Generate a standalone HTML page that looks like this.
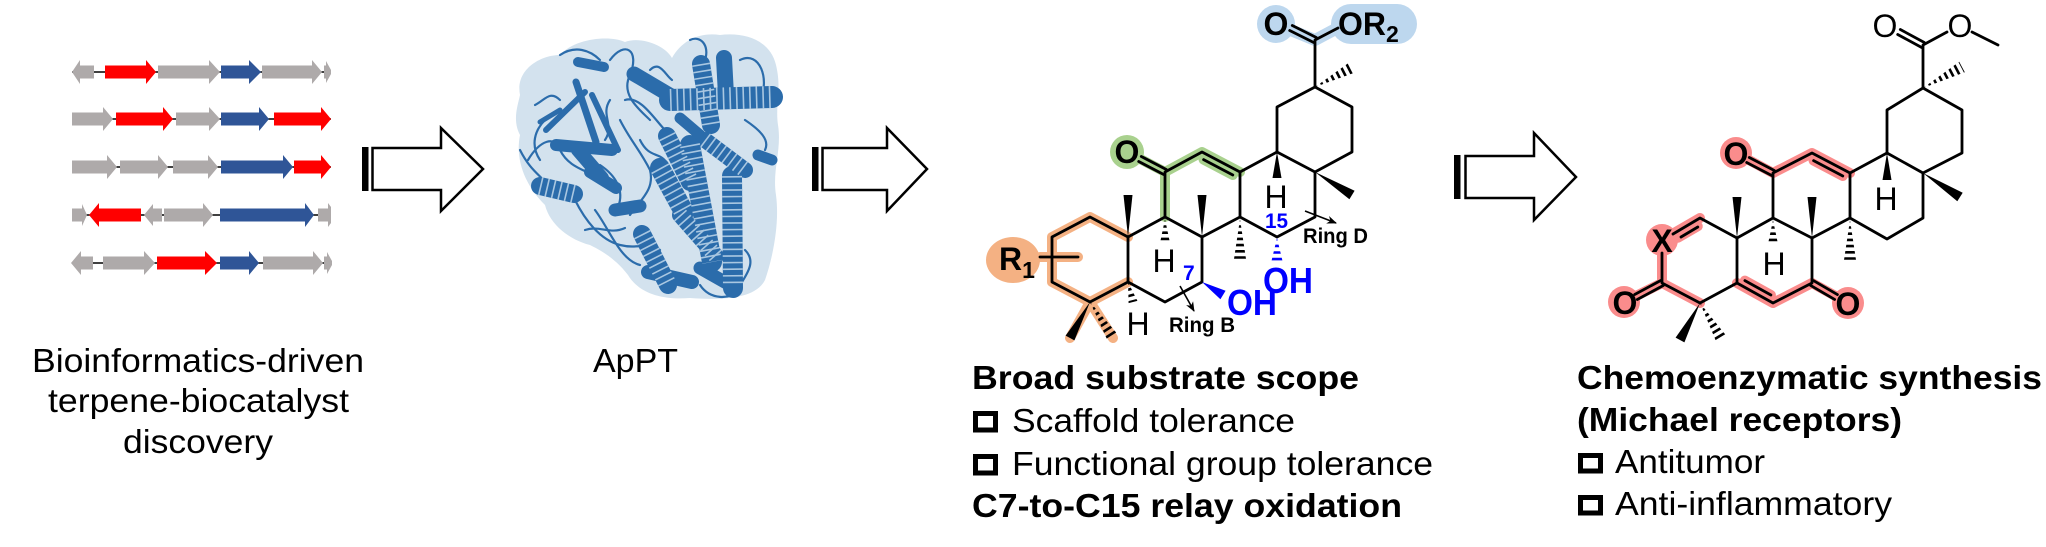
<!DOCTYPE html>
<html><head><meta charset="utf-8"><style>
html,body{margin:0;padding:0;background:#fff;overflow:hidden}
svg{display:block}
</style></head><body>
<svg width="2046" height="547" viewBox="0 0 2046 547" xmlns="http://www.w3.org/2000/svg" font-family="'Liberation Sans', Arial, sans-serif">
<defs>
<marker id="ah" markerWidth="10" markerHeight="8" refX="9" refY="4" orient="auto" markerUnits="userSpaceOnUse"><path d="M0,0 L10,4 L0,8 L3,4 Z" fill="#000"/></marker>
<clipPath id="h1"><polygon points="1315,87 1355.8,72.3 1350.2,61.7"/></clipPath>
<clipPath id="h2"><polygon points="1240,219 1234,259 1246,259"/></clipPath>
<clipPath id="h3"><polygon points="1165,219 1160,243 1170,243"/></clipPath>
<clipPath id="h4"><polygon points="1128,282 1137.4,300.9 1128.6,303.1"/></clipPath>
<clipPath id="h5"><polygon points="1090,302 1118.1,334.8 1107.9,341.2"/></clipPath>
<clipPath id="h6"><polygon points="1277,238 1271,263 1283,263"/></clipPath>
<clipPath id="r1"><polygon points="1923,88 1964.8,72.3 1959.2,61.7"/></clipPath>
<clipPath id="r2"><polygon points="1850,220 1844,260 1856,260"/></clipPath>
<clipPath id="r3"><polygon points="1773,220 1768,244 1778,244"/></clipPath>
<clipPath id="r4"><polygon points="1700,303 1727.2,336.9 1716.8,343.1"/></clipPath>
</defs>
<rect width="2046" height="547" fill="#fff"/>

<!-- ===== Gene clusters ===== -->
<g stroke="#000" stroke-width="1.5">
<line x1="72" y1="72" x2="331" y2="72"/>
<line x1="72" y1="119" x2="331" y2="119"/>
<line x1="72" y1="167" x2="331" y2="167"/>
<line x1="72" y1="215" x2="331" y2="215"/>
<line x1="72" y1="263" x2="331" y2="263"/>
</g>
<g>
<polygon fill="#aeaaaa" points="72,72 80,60 80,65.5 94,65.5 94,78.5 80,78.5 80,84"/>
<polygon fill="#ff0000" points="105,65.5 146,65.5 146,60 156,72 146,84 146,78.5 105,78.5"/>
<polygon fill="#aeaaaa" points="158,65.5 209,65.5 209,60 220,72 209,84 209,78.5 158,78.5"/>
<polygon fill="#2f5597" points="221,65.5 249,65.5 249,60 261,72 249,84 249,78.5 221,78.5"/>
<polygon fill="#aeaaaa" points="262,65.5 312,65.5 312,60 322,72 312,84 312,78.5 262,78.5"/>
<polygon fill="#aeaaaa" points="324,65.5 326,65.5 326,61 331,70 331,74 326,83 326,78.5 324,78.5"/>
<polygon fill="#aeaaaa" points="72,112.5 103,112.5 103,107 113,119 103,131 103,125.5 72,125.5"/>
<polygon fill="#ff0000" points="116,112.5 163,112.5 163,107 173,119 163,131 163,125.5 116,125.5"/>
<polygon fill="#aeaaaa" points="176,112.5 209,112.5 209,107 220,119 209,131 209,125.5 176,125.5"/>
<polygon fill="#2f5597" points="221,112.5 259,112.5 259,107 269,119 259,131 259,125.5 221,125.5"/>
<polygon fill="#ff0000" points="274,112.5 321,112.5 321,107 331,119 321,131 321,125.5 274,125.5"/>
<polygon fill="#aeaaaa" points="72,160.5 107,160.5 107,155 117,167 107,179 107,173.5 72,173.5"/>
<polygon fill="#aeaaaa" points="120,160.5 158,160.5 158,155 168,167 158,179 158,173.5 120,173.5"/>
<polygon fill="#aeaaaa" points="173,160.5 208,160.5 208,155 218,167 208,179 208,173.5 173,173.5"/>
<polygon fill="#2f5597" points="221,160.5 283,160.5 283,155 293,167 283,179 283,173.5 221,173.5"/>
<polygon fill="#ff0000" points="294,160.5 321,160.5 321,155 331,167 321,179 321,173.5 294,173.5"/>
<polygon fill="#aeaaaa" points="72,208.5 82,208.5 82,204 87,215 82,226 82,221.5 72,221.5"/>
<polygon fill="#ff0000" points="89,215 99,203 99,208.5 141,208.5 141,221.5 99,221.5 99,227"/>
<polygon fill="#aeaaaa" points="144,215 153,204 153,208.5 162,208.5 162,221.5 153,221.5 153,226"/>
<polygon fill="#aeaaaa" points="164,208.5 203,208.5 203,203 213,215 203,227 203,221.5 164,221.5"/>
<polygon fill="#2f5597" points="220,208.5 305,208.5 305,203 314,215 305,227 305,221.5 220,221.5"/>
<polygon fill="#aeaaaa" points="318,208.5 328,208.5 328,203 331,207 331,223 328,227 328,221.5 318,221.5"/>
<polygon fill="#aeaaaa" points="71,263 81,251 81,256.5 93,256.5 93,269.5 81,269.5 81,275"/>
<polygon fill="#aeaaaa" points="103,256.5 144,256.5 144,251 155,263 144,275 144,269.5 103,269.5"/>
<polygon fill="#ff0000" points="157,256.5 205,256.5 205,251 217,263 205,275 205,269.5 157,269.5"/>
<polygon fill="#2f5597" points="220,256.5 249,256.5 249,251 259,263 249,275 249,269.5 220,269.5"/>
<polygon fill="#aeaaaa" points="263,256.5 313,256.5 313,251 323,263 313,275 313,269.5 263,269.5"/>
<polygon fill="#aeaaaa" points="324,256.5 327,256.5 327,252 332,261 332,265 327,274 327,269.5 324,269.5"/>
</g>

<g font-size="33" fill="#000" text-anchor="start">
<text x="32" y="372" textLength="332" lengthAdjust="spacingAndGlyphs">Bioinformatics-driven</text>
<text x="48" y="412" textLength="301" lengthAdjust="spacingAndGlyphs">terpene-biocatalyst</text>
<text x="123" y="453" textLength="150" lengthAdjust="spacingAndGlyphs">discovery</text>
<text x="593" y="372" textLength="85" lengthAdjust="spacingAndGlyphs">ApPT</text>
</g>

<!-- ===== Block arrows ===== -->
<g stroke="#000" stroke-width="2.5" fill="#fff" stroke-linejoin="miter">
<rect x="362" y="147" width="6.5" height="44" fill="#000" stroke="none"/>
<polygon points="372.5,148 441,148 441,128 483,169 441,211 441,190 372.5,190"/>
<rect x="812" y="147" width="6.5" height="44" fill="#000" stroke="none"/>
<polygon points="822.5,148 887,148 887,128 927,169 887,211 887,190 822.5,190"/>
<rect x="1454" y="155" width="6.5" height="44" fill="#000" stroke="none"/>
<polygon points="1465.5,156 1534,156 1534,133 1576,177 1534,220 1534,198 1465.5,198"/>
</g>

<!-- ===== Protein ===== -->
<path fill="#d3e2ee" d="M520,95 C515,70 540,55 560,55 C575,38 610,35 625,42 C640,36 665,45 672,58 C682,40 700,32 720,35 C745,32 770,40 776,65 C782,90 775,105 778,125 C782,150 772,170 776,195 C780,225 772,260 765,280 C755,300 720,300 690,298 C665,300 640,295 628,275 C615,258 600,250 590,245 C570,240 550,225 545,205 C525,185 515,160 520,135 C512,120 518,105 520,95 Z"/>
<g fill="none" stroke="#2b6cab" stroke-linecap="round" stroke-linejoin="round">
<g stroke-width="2.2">
<path d="M560,55 C575,45 590,50 600,60"/>
<path d="M610,60 C625,40 640,50 630,75 C620,95 640,110 650,120"/>
<path d="M520,150 C530,170 540,175 548,185"/>
<path d="M528,160 C540,140 555,135 560,150 C570,170 590,170 600,180"/>
<path d="M575,200 C585,220 600,240 620,245 C640,250 650,240 660,250"/>
<path d="M595,210 C610,230 620,260 640,265"/>
<path d="M620,120 C630,140 640,150 650,170 C655,190 640,200 630,215"/>
<path d="M625,100 C640,95 655,120 665,130"/>
<path d="M600,165 C615,175 625,190 618,207"/>
<path d="M740,60 C760,50 770,80 760,100"/>
<path d="M745,120 C760,130 770,140 765,150"/>
<path d="M700,285 C710,300 730,300 740,290"/>
<path d="M690,40 C700,35 710,45 705,60"/>
<path d="M740,285 C750,270 755,260 745,250"/>
<path d="M560,100 C550,90 545,100 535,105"/>
<path d="M585,230 C600,225 610,235 625,228"/>
<path d="M640,140 C650,160 660,150 668,165"/>
<path d="M545,120 C535,130 530,145 540,160"/>
<path d="M610,100 C600,115 615,125 605,140"/>
<path d="M650,70 C660,60 665,75 672,80"/>
</g>
<g id="hel">
<path stroke-width="20" d="M732,176 L733,288"/>
<path stroke-width="22" d="M670,100 L772,97"/>
<path stroke-width="18" d="M701,64 L711,125"/>
<path stroke-width="16" d="M724,58 L726,95"/>
<path stroke-width="15" d="M634,74 L678,100"/>
<path stroke-width="18" d="M667,136 L690,182"/>
<path stroke-width="20" d="M660,168 L684,212"/>
<path stroke-width="20" d="M690,145 L712,262"/>
<path stroke-width="18" d="M642,234 L668,285"/>
<path stroke-width="14" d="M648,272 L692,282"/>
<path stroke-width="16" d="M705,140 L745,170"/>
<path stroke-width="16" d="M680,215 L716,256"/>
<path stroke-width="18" d="M540,186 L574,194"/>
<path stroke-width="13" d="M615,210 L640,206"/>
<path stroke-width="10" d="M578,62 L604,67"/>
<path stroke-width="12" d="M556,145 L612,150"/>
<path stroke-width="14" d="M578,150 L602,178"/>
<path stroke-width="12" d="M590,172 L616,188"/>
<path stroke-width="11" d="M758,155 L772,160"/>
<path stroke-width="13" d="M700,268 L730,285"/>
<path stroke-width="11" d="M680,118 L700,135"/>
</g>
<path stroke-width="6" d="M546,130 L585,92"/>
<path stroke-width="7" d="M576,82 L596,142"/>
<path stroke-width="6" d="M592,95 L618,150"/>
<path stroke-width="5" d="M540,122 L560,110"/>
</g>
<g fill="none" stroke="#a9c7e1" stroke-dasharray="1.6 5" stroke-linecap="butt">
<path stroke-width="20" d="M732,176 L733,288"/>
<path stroke-width="22" d="M670,100 L772,97"/>
<path stroke-width="18" d="M701,64 L711,125"/>
<path stroke-width="18" d="M667,136 L690,182"/>
<path stroke-width="20" d="M660,168 L684,212"/>
<path stroke-width="20" d="M690,145 L712,262"/>
<path stroke-width="18" d="M642,234 L668,285"/>
<path stroke-width="16" d="M705,140 L745,170"/>
<path stroke-width="16" d="M680,215 L716,256"/>
<path stroke-width="18" d="M540,186 L574,194"/>
</g>

<!-- ===== Middle structure: highlights ===== -->
<g fill="none" stroke-linecap="round" stroke-linejoin="round" stroke-width="10">
<path stroke="#f4b183" d="M1128,237 L1090,217 L1052,237 L1052,282 L1090,302 L1128,282 M1090,302 L1070,338 M1090,302 L1113,338 M1040,257 L1078,257"/>
<path stroke="#a9d18e" d="M1165,217 L1165,172 L1202,152 L1240,172 M1165,172 L1127,152 M1203.6,159.6 L1232.8,175"/>
<path stroke="#bdd7ee" stroke-width="12" d="M1276,24 L1315,40 L1345,24"/>
</g>
<ellipse cx="1013" cy="260" rx="27" ry="23" fill="#f4b183"/>
<circle cx="1127" cy="152" r="17" fill="#a9d18e"/>
<circle cx="1276" cy="24" r="19" fill="#bdd7ee"/>
<rect x="1331" y="4" width="86" height="40" rx="20" fill="#bdd7ee"/>

<g fill="none" stroke="#000" stroke-width="2.8" stroke-linejoin="round" stroke-linecap="round">
<path d="M1052,237 L1090,217 L1128,237 L1128,282 L1090,302 L1052,282 Z"/>
<path d="M1128,237 L1165,217 L1202,237 L1202,282 L1165,302 L1128,282"/>
<path d="M1165,217 L1165,172 L1202,152 L1240,172 L1240,217 L1202,237"/>
<path d="M1240,172 L1277,152 L1315,172 L1315,217 L1277,237 L1240,217"/>
<path d="M1277,152 L1277,107 L1315,87 L1352,107 L1352,152 L1315,172"/>
<path d="M1315,87 L1315,40 L1338,28"/>
<path d="M1316.3,37.5 L1292.3,25.5 M1313.7,42.5 L1289.7,30.5"/>
<path d="M1166.3,169.5 L1141.3,156.5 M1163.7,174.5 L1138.7,161.5"/>
<path d="M1203.6,159.6 L1232.8,175"/>
<path d="M1040,257 L1078,257"/>
</g>
<g fill="#000">
<polygon points="1128,237 1123.5,195 1132.5,195"/>
<polygon points="1202,237 1197.5,195 1206.5,195"/>
<polygon points="1277,152 1272.5,178 1281.5,178"/>
<polygon points="1315,172 1349.4,199.2 1354.6,190.8"/>
<polygon points="1090,302 1074.4,340.4 1065.6,335.6"/>
</g>
<g stroke="#000" stroke-width="14" stroke-dasharray="2.6 3.6">
<line x1="1315" y1="87" x2="1356" y2="66" clip-path="url(#h1)"/>
<line x1="1240" y1="219" x2="1240" y2="260" clip-path="url(#h2)"/>
<line x1="1165" y1="219" x2="1165" y2="244" clip-path="url(#h3)"/>
<line x1="1128" y1="282" x2="1134" y2="304" clip-path="url(#h4)"/>
<line x1="1090" y1="302" x2="1115" y2="341" clip-path="url(#h5)"/>
</g>
<line x1="1277" y1="238" x2="1277" y2="264" stroke="#0000ff" stroke-width="14" stroke-dasharray="2.6 4" clip-path="url(#h6)"/>
<polygon points="1202,282 1220.4,299.3 1225.6,290.7" fill="#0000ff"/>

<g font-weight="bold" font-size="32" fill="#000">
<text x="1276" y="35" text-anchor="middle">O</text>
<text x="1338" y="35">OR<tspan font-size="23" dy="7">2</tspan></text>
<text x="1127" y="163" text-anchor="middle">O</text>
<text x="999" y="270">R<tspan font-size="23" dy="8">1</tspan></text>
</g>
<g font-size="32" fill="#000" text-anchor="middle">
<text x="1164" y="272">H</text>
<text x="1138" y="335">H</text>
<text x="1276" y="208">H</text>
</g>
<g font-weight="bold" fill="#0000ff">
<text x="1227" y="315" font-size="36" textLength="50" lengthAdjust="spacingAndGlyphs">OH</text>
<text x="1263" y="293" font-size="36" textLength="50" lengthAdjust="spacingAndGlyphs">OH</text>
<text x="1183" y="280" font-size="21">7</text>
<text x="1265" y="228" font-size="21" textLength="23" lengthAdjust="spacingAndGlyphs">15</text>
</g>
<g font-weight="bold" font-size="21" fill="#000">
<text x="1169" y="332" textLength="66" lengthAdjust="spacingAndGlyphs">Ring B</text>
<text x="1303" y="243" textLength="65" lengthAdjust="spacingAndGlyphs">Ring D</text>
</g>
<g stroke="#000" stroke-width="1.6" fill="none">
<line x1="1180" y1="286" x2="1194" y2="311" marker-end="url(#ah)"/>
<line x1="1305" y1="211" x2="1336" y2="223" marker-end="url(#ah)"/>
</g>

<g fill="#000">
<text x="972" y="389" font-size="33" font-weight="bold" textLength="387" lengthAdjust="spacingAndGlyphs">Broad substrate scope</text>
<rect x="975.5" y="413.5" width="20" height="16.5" fill="none" stroke="#000" stroke-width="5"/>
<text x="1012" y="432" font-size="33" textLength="283" lengthAdjust="spacingAndGlyphs">Scaffold tolerance</text>
<rect x="975.5" y="456.5" width="20" height="16.5" fill="none" stroke="#000" stroke-width="5"/>
<text x="1012" y="475" font-size="33" textLength="421" lengthAdjust="spacingAndGlyphs">Functional group tolerance</text>
<text x="972" y="517" font-size="33" font-weight="bold" textLength="430" lengthAdjust="spacingAndGlyphs">C7-to-C15 relay oxidation</text>
</g>

<!-- ===== Right structure ===== -->
<g fill="none" stroke="#fa8c8c" stroke-linecap="round" stroke-linejoin="round" stroke-width="10">
<path d="M1662,240 L1700,218 M1678,237.7 L1697.8,226.2"/>
<path d="M1662,240 L1662,283 L1700,303 M1662,283 L1624,302"/>
<path d="M1737,283 L1773,303 L1812,283 L1848,303 M1744.9,280.6 L1770.9,295"/>
<path d="M1736,153 L1773,173 L1812,153 L1850,173 M1813.6,160.6 L1842.8,176"/>
</g>
<g fill="#fa8c8c">
<circle cx="1662" cy="240" r="16"/>
<circle cx="1624" cy="302" r="16"/>
<circle cx="1848" cy="303" r="16"/>
<circle cx="1736" cy="153" r="16"/>
</g>

<g fill="none" stroke="#000" stroke-width="2.8" stroke-linejoin="round" stroke-linecap="round">
<path d="M1673,234 L1700,218 L1737,238 L1737,283 L1700,303 L1662,283 L1662,253"/>
<path d="M1681,237 L1697.8,227"/>
<path d="M1737,238 L1773,218 L1812,238 L1812,283 L1773,303 L1737,283"/>
<path d="M1744.9,280.6 L1770.9,295"/>
<path d="M1773,218 L1773,173 L1812,153 L1850,173 L1850,218 L1812,238"/>
<path d="M1813.6,160.6 L1842.8,176"/>
<path d="M1850,173 L1887,153 L1923,173 L1923,218 L1887,239 L1850,218"/>
<path d="M1887,153 L1887,110 L1923,88 L1962,110 L1962,153 L1923,173"/>
<path d="M1923,88 L1923,45 L1947,32 M1972,32 L1998,45"/>
<path d="M1924.3,42.5 L1900.3,29.5 M1921.7,47.5 L1897.7,34.5"/>
<path d="M1663.3,285.5 L1637.3,299.5 M1660.7,280.5 L1634.7,294.5"/>
<path d="M1810.6,285.4 L1834.6,299.4 M1813.4,280.6 L1837.4,294.6"/>
<path d="M1774.3,170.5 L1749.3,157.5 M1771.7,175.5 L1746.7,162.5"/>
</g>
<g fill="#000">
<polygon points="1737,238 1732.5,197 1741.5,197"/>
<polygon points="1812,238 1807.5,197 1816.5,197"/>
<polygon points="1887,153 1882.5,180 1891.5,180"/>
<polygon points="1923,173 1957.3,201.2 1962.7,192.8"/>
<polygon points="1700,303 1684.4,342.4 1675.6,337.6"/>
</g>
<g stroke="#000" stroke-width="14" stroke-dasharray="2.6 3.6">
<line x1="1923" y1="88" x2="1965" y2="66" clip-path="url(#r1)"/>
<line x1="1850" y1="220" x2="1850" y2="261" clip-path="url(#r2)"/>
<line x1="1773" y1="220" x2="1773" y2="245" clip-path="url(#r3)"/>
<line x1="1700" y1="303" x2="1724" y2="343" clip-path="url(#r4)"/>
</g>
<g font-size="32" fill="#000" text-anchor="middle">
<text x="1885" y="37">O</text>
<text x="1960" y="37">O</text>
<text x="1774" y="275">H</text>
<text x="1886" y="210">H</text>
</g>
<g font-size="32" font-weight="bold" fill="#000" text-anchor="middle">
<text x="1736" y="165">O</text>
<text x="1625" y="314">O</text>
<text x="1848" y="315">O</text>
<text x="1662" y="252">X</text>
</g>

<g fill="#000">
<text x="1577" y="389" font-size="33" font-weight="bold" textLength="465" lengthAdjust="spacingAndGlyphs">Chemoenzymatic synthesis</text>
<text x="1577" y="431" font-size="33" font-weight="bold" textLength="325" lengthAdjust="spacingAndGlyphs">(Michael receptors)</text>
<rect x="1580.5" y="455.5" width="20" height="15.5" fill="none" stroke="#000" stroke-width="5"/>
<text x="1615" y="473" font-size="33" textLength="150" lengthAdjust="spacingAndGlyphs">Antitumor</text>
<rect x="1580.5" y="497.5" width="20" height="15.5" fill="none" stroke="#000" stroke-width="5"/>
<text x="1615" y="515" font-size="33" textLength="277" lengthAdjust="spacingAndGlyphs">Anti-inflammatory</text>
</g>
</svg>
</body></html>
